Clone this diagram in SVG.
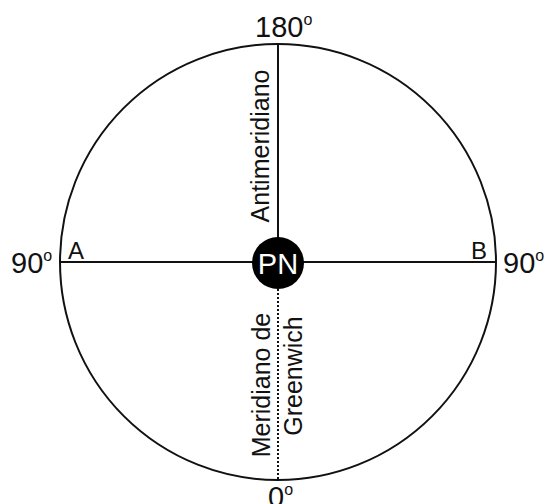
<svg xmlns="http://www.w3.org/2000/svg" width="545" height="504" viewBox="0 0 545 504">
<style>
.ln{stroke:#111;stroke-width:2;fill:none}
.t{font-family:"Liberation Sans",Arial,sans-serif;fill:#111}
.deg{font-size:16px}
</style>
<rect width="545" height="504" fill="#fff"/>
<g id="connectors">
<circle class="ln" cx="278" cy="262" r="218"/>
<line class="ln" x1="60" y1="262" x2="496" y2="262"/>
<line class="ln" x1="278" y1="44" x2="278" y2="262"/>
<line class="ln" x1="278" y1="289" x2="278" y2="480" stroke-dasharray="2 2"/>
</g>
<g id="pn">
<circle cx="278" cy="263" r="26" fill="#000"/>
<text class="t" x="278" y="274" font-size="29" text-anchor="middle" style="fill:#fff">PN</text>
</g>
<g id="labels">
<text class="t" x="255" y="37" font-size="29">180<tspan class="deg" dy="-12">o</tspan></text>
<text class="t" x="11" y="273" font-size="29">90<tspan class="deg" dy="-12">o</tspan></text>
<text class="t" x="503" y="273" font-size="29">90<tspan class="deg" dy="-12">o</tspan></text>
<text class="t" x="268" y="507" font-size="29">0<tspan class="deg" dy="-12">o</tspan></text>
<text class="t" x="68" y="259" font-size="24">A</text>
<text class="t" x="471" y="259" font-size="24">B</text>
<text class="t" transform="translate(269,146) rotate(-90)" font-size="25" text-anchor="middle">Antimeridiano</text>
<text class="t" transform="translate(270,385) rotate(-90)" font-size="25" text-anchor="middle">Meridiano de</text>
<text class="t" transform="translate(302,376) rotate(-90)" font-size="25" text-anchor="middle">Greenwich</text>
</g>
</svg>
